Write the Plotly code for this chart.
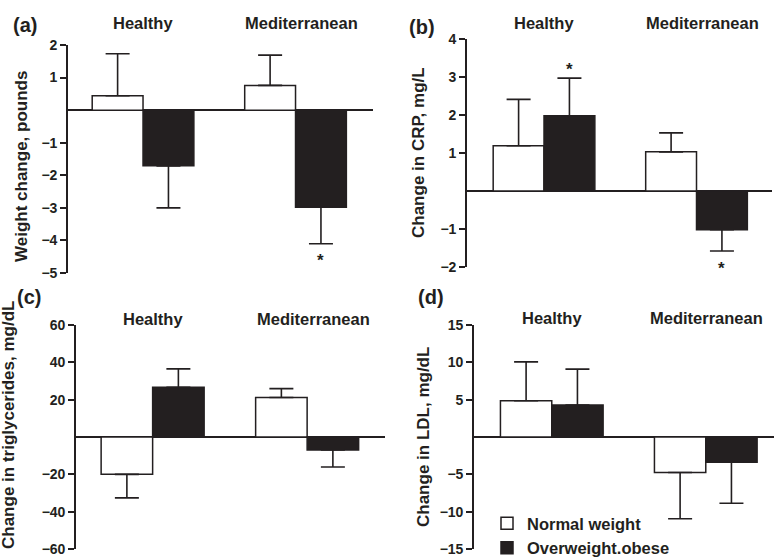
import plotly.graph_objects as go

W, H = 774, 558
FONT = "Liberation Sans, Arial, Helvetica, sans-serif"
INK = "#231f20"

# ---------------- data ----------------
categories = ["Healthy", "Mediterranean"]
series_names = ["Normal weight", "Overweight.obese"]
panel_labels = ["(a)", "(b)", "(c)", "(d)"]
y_titles = ["Weight change, pounds", "Change in CRP, mg/L",
            "Change in triglycerides, mg/dL", "Change in LDL, mg/dL"]

# (a) weight change, pounds
weight_normal = [0.44, 0.76]
weight_normal_sem = [1.29, 0.93]
weight_obese = [-1.71, -2.98]
weight_obese_sem = [1.29, 1.12]
weight_normal_sig = ["", ""]
weight_obese_sig = ["", "*"]
weight_ticks = [2, 1, -1, -2, -3, -4, -5]

# (b) change in CRP, mg/L
crp_normal = [1.19, 1.03]
crp_normal_sem = [1.22, 0.50]
crp_obese = [1.98, -1.02]
crp_obese_sem = [0.99, 0.56]
crp_normal_sig = ["", ""]
crp_obese_sig = ["*", "*"]
crp_ticks = [4, 3, 2, 1, -1, -2]

# (c) change in triglycerides, mg/dL
tg_normal = [-20.0, 21.2]
tg_normal_sem = [12.6, 4.7]
tg_obese = [26.6, -6.9]
tg_obese_sem = [9.9, 9.2]
tg_normal_sig = ["", ""]
tg_obese_sig = ["", ""]
tg_ticks = [60, 40, 20, -20, -40, -60]

# (d) change in LDL, mg/dL
ldl_normal = [4.86, -4.75]
ldl_normal_sem = [5.2, 6.2]
ldl_obese = [4.29, -3.38]
ldl_obese_sem = [4.8, 5.5]
ldl_normal_sig = ["", ""]
ldl_obese_sig = ["", ""]
ldl_ticks = [15, 10, 5, -5, -10, -15]

# ---------------- layout helpers ----------------
def px_x(x):
    return x / W

def px_y(y):
    return 1 - y / H

def tick_text(vals):
    return [("\u2212" + str(abs(v))) if v < 0 else str(v) for v in vals]

panels = [
    dict(normal=weight_normal, normal_sem=weight_normal_sem, obese=weight_obese, obese_sem=weight_obese_sem,
         nsig=weight_normal_sig, osig=weight_obese_sig, ticks=weight_ticks, yr=[-5, 2],
         box=(68, 373, 45, 273), xr=[-0.492, 1.508], title_xy=(21, 167), label_xy=(11, 25), cat_y=23, med_shift=6),
    dict(normal=crp_normal, normal_sem=crp_normal_sem, obese=crp_obese, obese_sem=crp_obese_sem,
         nsig=crp_normal_sig, osig=crp_obese_sig, ticks=crp_ticks, yr=[-2, 4],
         box=(467, 772, 39, 267), xr=[-0.505, 1.495], title_xy=(418, 153), label_xy=(407, 27), cat_y=23, med_shift=6),
    dict(normal=tg_normal, normal_sem=tg_normal_sem, obese=tg_obese, obese_sem=tg_obese_sem,
         nsig=tg_normal_sig, osig=tg_obese_sig, ticks=tg_ticks, yr=[-60, 60],
         box=(76, 385, 325, 549), xr=[-0.496, 1.504], title_xy=(8, 425), label_xy=(15, 297), cat_y=319, med_shift=6),
    dict(normal=ldl_normal, normal_sem=ldl_normal_sem, obese=ldl_obese, obese_sem=ldl_obese_sem,
         nsig=ldl_normal_sig, osig=ldl_obese_sig, ticks=ldl_ticks, yr=[-15, 15],
         box=(474, 774, 325, 549), xr=[-0.505, 1.443], title_xy=(423, 437), label_xy=(416, 297), cat_y=318, med_shift=1),
]

def err_dict(vals, sems):
    plus = [s if v >= 0 else 0 for v, s in zip(vals, sems)]
    minus = [s if v < 0 else 0 for v, s in zip(vals, sems)]
    return dict(type="data", symmetric=False, array=plus, arrayminus=minus,
                color=INK, thickness=1.6, width=12)

fig = go.Figure()
annotations = []
layout_axes = {}

for i, p in enumerate(panels):
    n = i + 1
    xa = "x" if n == 1 else f"x{n}"
    ya = "y" if n == 1 else f"y{n}"
    left, right, top, bottom = p["box"]
    show_leg = (n == 4)

    fig.add_trace(go.Bar(
        x=categories, y=p["normal"], name=series_names[0], legendgroup="n", showlegend=show_leg,
        marker=dict(color="white", line=dict(color=INK, width=1.5)),
        error_y=err_dict(p["normal"], p["normal_sem"]), xaxis=xa, yaxis=ya))
    fig.add_trace(go.Bar(
        x=categories, y=p["obese"], name=series_names[1], legendgroup="o", showlegend=show_leg,
        marker=dict(color=INK, line=dict(color=INK, width=1.5)),
        error_y=err_dict(p["obese"], p["obese_sem"]), xaxis=xa, yaxis=ya))

    xkey = "xaxis" if n == 1 else f"xaxis{n}"
    ykey = "yaxis" if n == 1 else f"yaxis{n}"
    layout_axes[xkey] = dict(domain=[px_x(left), px_x(right)], range=p["xr"], type="category",
                             categoryorder="array", categoryarray=categories,
                             showticklabels=False, showline=False, ticks="", showgrid=False,
                             zeroline=False, anchor=ya, fixedrange=True, automargin=False)
    layout_axes[ykey] = dict(domain=[px_y(bottom), px_y(top)], range=p["yr"], anchor=xa,
                             showline=True, linecolor=INK, linewidth=1.6,
                             ticks="outside", ticklen=6, tickwidth=1.6, tickcolor=INK,
                             tickvals=p["ticks"], ticktext=tick_text(p["ticks"]),
                             tickfont=dict(family=FONT, size=14, color=INK, weight="bold"),
                             ticklabeloverflow="allow",
                             showgrid=False, zeroline=True, zerolinecolor=INK, zerolinewidth=1.6,
                             fixedrange=True, automargin=False)

    # category labels above groups
    for j, c in enumerate(categories):
        annotations.append(dict(x=j, y=px_y(p["cat_y"]), xref=xa, yref="paper", text=c,
                                showarrow=False, xanchor="center", yanchor="middle",
                                xshift=(p["med_shift"] if j == 1 else 0),
                                font=dict(family=FONT, size=16.5, color=INK, weight="bold")))
    # panel label
    annotations.append(dict(x=px_x(p["label_xy"][0]), y=px_y(p["label_xy"][1]), xref="paper", yref="paper",
                            text=panel_labels[i], showarrow=False, xanchor="left", yanchor="middle",
                            font=dict(family=FONT, size=20, color=INK, weight="bold")))
    # y title
    annotations.append(dict(x=px_x(p["title_xy"][0]), y=px_y(p["title_xy"][1]), xref="paper", yref="paper",
                            text=y_titles[i], showarrow=False, textangle=-90,
                            xanchor="center", yanchor="middle",
                            font=dict(family=FONT, size=17, color=INK, weight="bold")))
    # significance stars
    for vals, sems, sigs, off in ((p["normal"], p["normal_sem"], p["nsig"], -1 / 6),
                                  (p["obese"], p["obese_sem"], p["osig"], 1 / 6)):
        for j, (v, s, sg) in enumerate(zip(vals, sems, sigs)):
            if not sg:
                continue
            end = v + s if v >= 0 else v - s
            annotations.append(dict(x=j + off, y=end, xref=xa, yref=ya, text=sg, showarrow=False,
                                    xanchor="center", yanchor="middle",
                                    yshift=(9 if v >= 0 else -17),
                                    font=dict(family=FONT, size=17, color=INK, weight="bold")))

fig.update_layout(
    width=W, height=H, autosize=False,
    margin=dict(l=0, r=0, t=0, b=0, pad=0, autoexpand=False),
    paper_bgcolor="white", plot_bgcolor="white",
    barmode="group", bargap=1 / 3, bargroupgap=0,
    showlegend=True,
    legend=dict(x=px_x(487), xanchor="left", y=px_y(565), yanchor="bottom",
                bgcolor="rgba(0,0,0,0)", borderwidth=0, tracegroupgap=0,
                font=dict(family=FONT, size=16.5, color=INK, weight="bold")),
    annotations=annotations,
    font=dict(family=FONT, color=INK),
    **layout_axes,
)

fig.write_html("out.html", config={"displayModeBar": False},
               post_script="document.body.style.margin='0px';")
